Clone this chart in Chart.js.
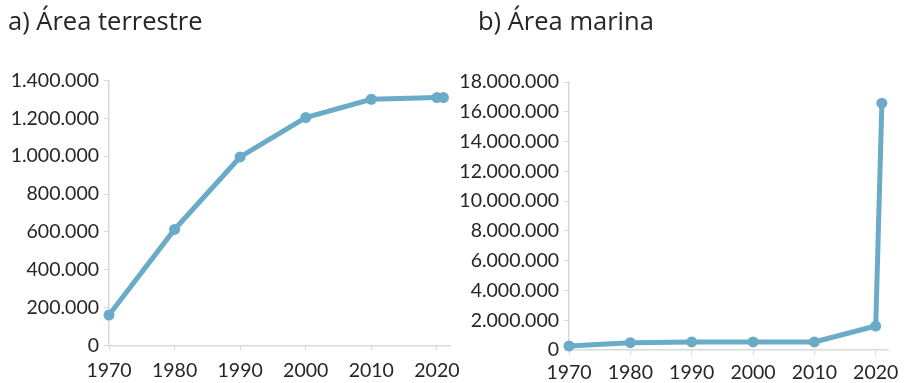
<!DOCTYPE html>
<html>
<head>
<meta charset="utf-8">
<script src="https://cdn.jsdelivr.net/npm/chart.js@4.4.1/dist/chart.umd.min.js"></script>
<style>
  html, body { margin: 0; padding: 0; background: #fff; }
  #wrap { position: relative; width: 904px; height: 383px; overflow: hidden; }
  .panel { position: absolute; top: 0; height: 383px; }
  .title { position: absolute; top: 3px; font-family: "Open Sans", sans-serif; font-size: 25.5px; color: #262626; white-space: nowrap; }
</style>
</head>
<body>
<div id="wrap">
  <div class="panel" style="left:452px; width:452px"><canvas id="sea"></canvas></div>
  <div class="panel" style="left:0; width:475px"><canvas id="land"></canvas></div>
  <div class="title" style="left:8px">a) Área terrestre</div>
  <div class="title" style="left:478px">b) Área marina</div>
</div>
<script>
// Years of each measurement
const years = [1970, 1980, 1990, 2000, 2010, 2020, 2021];
// Protected land area
const landArea = [161000, 613000, 996000, 1204000, 1301000, 1310000, 1310000];
// Protected marine area
const marineArea = [270000, 490000, 545000, 545000, 545000, 1610000, 16580000];
// Year labels on the horizontal axis
const yearTicks = [1970, 1980, 1990, 2000, 2010, 2020];

const LINE = '#6aabc8';
const AXIS = '#d9d9d9';
const TEXT = '#262626';

function dotted(n) {
  return String(Math.round(n)).replace(/\B(?=(\d{3})+(?!\d))/g, '.');
}

function makeChart(id, values, yMax, yStep, yWidth, xHeight, padTop, padRight, xPad) {
  const points = years.map((y, i) => ({ x: y, y: values[i] }));
  return new Chart(document.getElementById(id), {
    type: 'line',
    data: {
      datasets: [{
        data: points,
        borderColor: LINE,
        backgroundColor: LINE,
        borderWidth: 5,
        pointRadius: 5.5,
        pointHoverRadius: 5.5,
        pointBorderWidth: 0,
        tension: 0,
        clip: false
      }]
    },
    options: {
      responsive: true,
      maintainAspectRatio: false,
      animation: false,
      layout: { padding: { top: padTop, right: padRight, left: 0, bottom: 0 } },
      plugins: { legend: { display: false }, tooltip: { enabled: false } },
      scales: {
        x: {
          type: 'linear',
          min: 1970,
          max: 2022,
          afterBuildTicks: s => { s.ticks = yearTicks.map(v => ({ value: v })); },
          afterFit: s => { s.height = xHeight; s.paddingLeft = 0; s.paddingRight = 0; },
          border: { display: true, color: AXIS, width: 1.5 },
          grid: { display: true, drawOnChartArea: false, tickLength: 5, color: AXIS, lineWidth: 1 },
          ticks: {
            padding: xPad,
            maxRotation: 0,
            autoSkip: false,
            color: TEXT,
            font: { family: 'Lato', size: 19.5 },
            callback: v => String(v)
          }
        },
        y: {
          min: 0,
          max: yMax,
          afterFit: s => { s.width = yWidth; s.paddingTop = 0; s.paddingBottom = 0; },
          border: { display: true, color: AXIS, width: 1.5 },
          grid: { display: true, drawOnChartArea: false, tickLength: 5, color: AXIS, lineWidth: 1 },
          ticks: {
            stepSize: yStep,
            padding: 5,
            color: TEXT,
            font: { family: 'Lato', size: 19.5 },
            callback: v => dotted(v)
          }
        }
      }
    }
  });
}

makeChart('land', landArea, 1400000, 200000, 109, 37.5, 80.5, 25, 8.5);
makeChart('sea', marineArea, 18000000, 2000000, 117, 33, 82, 16, 6);
</script>
</body>
</html>
